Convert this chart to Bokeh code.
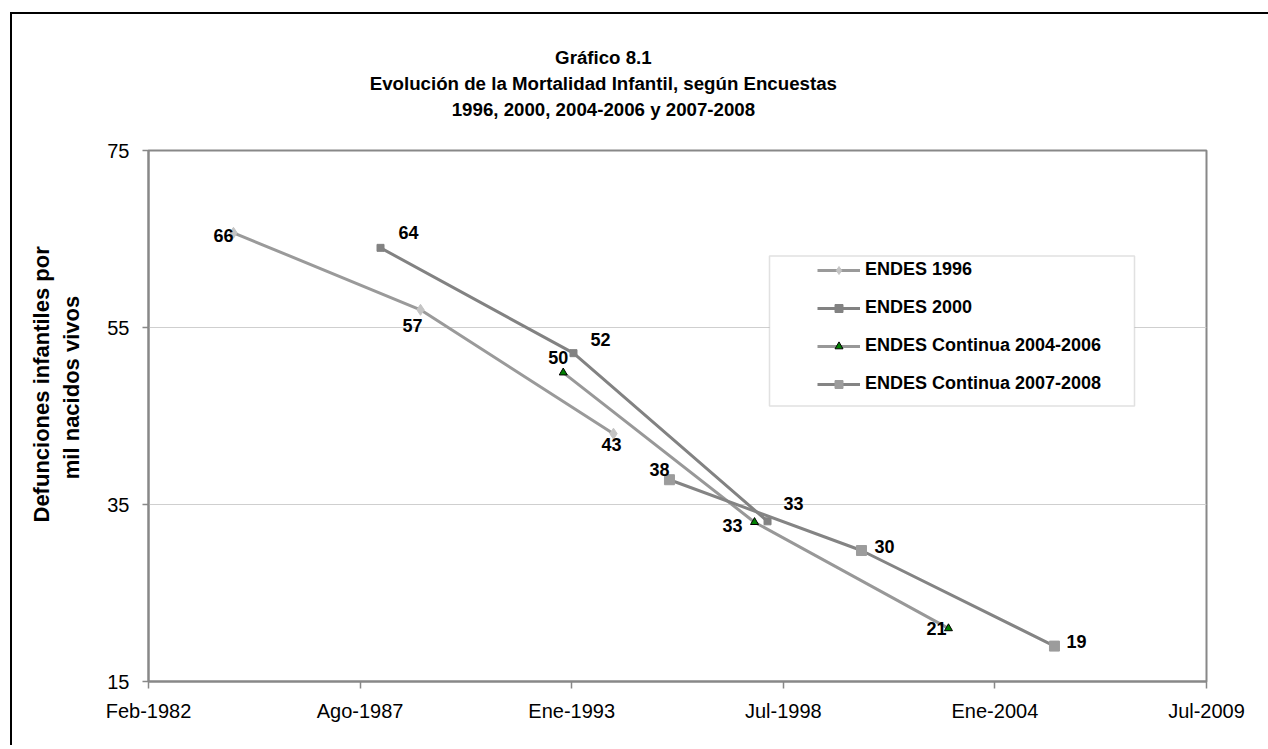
import pandas as pd
from bokeh.plotting import figure
from bokeh.models import (Range1d, FixedTicker, Title, BoxAnnotation, Legend,
                          LegendItem, ColumnDataSource)
from bokeh.core.properties import value
from bokeh.embed import file_html
from bokeh.resources import INLINE

# ---------------- data ----------------
axis_origin = "1982-02-15"
tick_dates = ["1982-02-15", "1987-08-08", "1993-01-28", "1998-07-21", "2004-01-11", "2009-07-03"]
tick_labels = ["Feb-1982", "Ago-1987", "Ene-1993", "Jul-1998", "Ene-2004", "Jul-2009"]
y_ticks = [15, 35, 55, 75]

series_names = ["ENDES 1996", "ENDES 2000", "ENDES Continua 2004-2006", "ENDES Continua 2007-2008"]

dates_1996 = ["1984-04-28", "1989-03-01", "1994-02-27"]
vals_1996 = [65.7, 57.0, 43.0]

dates_2000 = ["1988-02-17", "1993-02-14", "1998-02-22"]
vals_2000 = [64.0, 52.1, 33.1]

dates_2004 = ["1992-11-09", "1997-10-22", "2002-10-29"]
vals_2004 = [49.9, 33.0, 21.0]

dates_2007 = ["1995-08-10", "2000-07-29", "2005-07-27"]
vals_2007 = [37.8, 29.8, 19.0]

title_lines = ["Gráfico 8.1",
               "Evolución de la Mortalidad Infantil, según Encuestas",
               "1996, 2000, 2004-2006 y 2007-2008"]
y_label_lines = ["Defunciones infantiles por", "mil nacidos vivos"]

# ---------------- styles / layout ----------------
FONT = "Liberation Sans"
OX, OY = 12, 14                       # canvas origin on page (margin + border)
W, H = 1262, 733
FL, FR, FT, FB = 148, 1206, 150, 681  # frame edges in page px
line_colors = ["#9a9a9a", "#828282", "#989898", "#848484"]
marker_types = ["diamond", "square", "triangle", "square"]
marker_fill = ["#c4c4c4", "#828282", "#008000", "#9c9c9c"]
marker_line = ["#c4c4c4", "#828282", "#000000", "#9c9c9c"]
marker_size = [11, 7, 8, 10]
# data label offsets in px (dx, dy: screen, down positive)
label_dx = [[-10, -8, -2], [28, 27, 26], [-5, -22, -12], [-10, 23, 22]]
label_dy = [[3, 16, 11], [-15, -14, -18], [-15, 3, 0], [-10, -4, -5]]
# title lines: left offset from frame left, standoff
title_offsets = [406.6, 221.2, 303.2]
title_standoff = 3
ylab_offsets = [159, 202.3]          # from frame bottom
ylab_standoffs = [4, 3]

origin = pd.Timestamp(axis_origin)


def to_days(ds):
    return [(pd.Timestamp(d) - origin).days for d in ds]


tick_x = to_days(tick_dates)

p = figure(width=W, height=H, output_backend="svg", toolbar_location=None,
           x_range=Range1d(tick_x[0], tick_x[-1]), y_range=Range1d(y_ticks[0], y_ticks[-1]),
           min_border_left=FL - OX, min_border_right=OX + W - FR,
           min_border_top=FT - OY, min_border_bottom=OY + H - FB,
           background_fill_color="white", border_fill_color="white")
p.styles = {"margin-left": "10px", "margin-top": "12px",
            "border-left": "2px solid black", "border-top": "2px solid black",
            "border-right": "0px none", "border-bottom": "0px none"}
p.outline_line_color = "#888888"
p.outline_line_width = 2
p.xgrid.visible = False
p.ygrid.grid_line_color = "#cfcfcf"
p.ygrid.grid_line_width = 1

p.xaxis.ticker = FixedTicker(ticks=tick_x)
p.xaxis.major_label_overrides = {t: l for t, l in zip(tick_x, tick_labels)}
p.yaxis.ticker = FixedTicker(ticks=y_ticks)
for ax in (p.xaxis, p.yaxis):
    ax.axis_line_color = "#888888"
    ax.axis_line_width = 2
    ax.major_tick_line_color = "#888888"
    ax.major_tick_line_width = 1.5
    ax.major_tick_in = 0
    ax.minor_tick_line_color = None
    ax.major_label_text_font = FONT
    ax.major_label_text_font_size = "20px"
    ax.major_label_text_color = "black"
p.xaxis.major_tick_out = 7
p.xaxis.major_label_standoff = 11
p.yaxis.major_tick_out = 6
p.yaxis.major_label_standoff = 13

all_dates = [dates_1996, dates_2000, dates_2004, dates_2007]
all_vals = [vals_1996, vals_2000, vals_2004, vals_2007]

items = []
lab_x, lab_y, lab_t, lab_dx, lab_dy = [], [], [], [], []
for i, name in enumerate(series_names):
    xs = to_days(all_dates[i])
    ys = all_vals[i]
    lr = p.line(xs, ys, line_color=line_colors[i], line_width=3)
    sr = p.scatter(xs, ys, marker=marker_types[i], size=marker_size[i],
                   fill_color=marker_fill[i], line_color=marker_line[i], line_width=1)
    items.append(LegendItem(label=name, renderers=[lr, sr]))
    lab_x += xs
    lab_y += ys
    lab_t += [f"{v:.0f}" for v in ys]
    lab_dx += label_dx[i]
    lab_dy += label_dy[i]

src = ColumnDataSource(dict(x=lab_x, y=lab_y, t=lab_t, dx=lab_dx, dy=lab_dy))
p.text(x="x", y="y", text="t", x_offset="dx", y_offset="dy", source=src,
       text_font=value(FONT), text_font_style="bold", text_font_size="18px",
       text_align="center", text_baseline="middle", text_color="black")

# legend box
p.add_layout(BoxAnnotation(left=767 - OX, right=1132 - OX, top=253.5 - OY, bottom=403.5 - OY,
                           left_units="canvas", right_units="canvas",
                           top_units="canvas", bottom_units="canvas",
                           fill_color="white", fill_alpha=1,
                           line_color="#9a9a9a", line_width=1.5))

legend = Legend(items=items, location=(817 - FL, FB - 394), padding=0, spacing=17, margin=0,
                glyph_width=43, glyph_height=20, label_height=20, label_standoff=5,
                label_text_font=FONT, label_text_font_size="18px",
                label_text_font_style="bold", label_text_color="black",
                border_line_alpha=0, background_fill_alpha=0)
p.add_layout(legend)

# title: spacer next to the frame, then one Title per line (nearest first)
p.title.visible = False
p.add_layout(Title(text=" ", text_font_size="10px", standoff=16), "above")
for txt, off in reversed(list(zip(title_lines, title_offsets))):
    p.add_layout(Title(text=txt, align="left", offset=off, standoff=title_standoff,
                       text_font=FONT, text_font_size="18.7px", text_font_style="bold",
                       text_color="black"), "above")

# y axis label: spacer next to the axis, then one Title per line (nearest first)
p.add_layout(Title(text=" ", text_font_size="10px", standoff=5.7), "left")
for txt, off, so in reversed(list(zip(y_label_lines, ylab_offsets, ylab_standoffs))):
    p.add_layout(Title(text=txt, align="left", offset=off, standoff=so,
                       text_font=FONT, text_font_size="22px", text_font_style="bold",
                       text_color="black"), "left")

open("out.html", "w").write(file_html(p, INLINE))
